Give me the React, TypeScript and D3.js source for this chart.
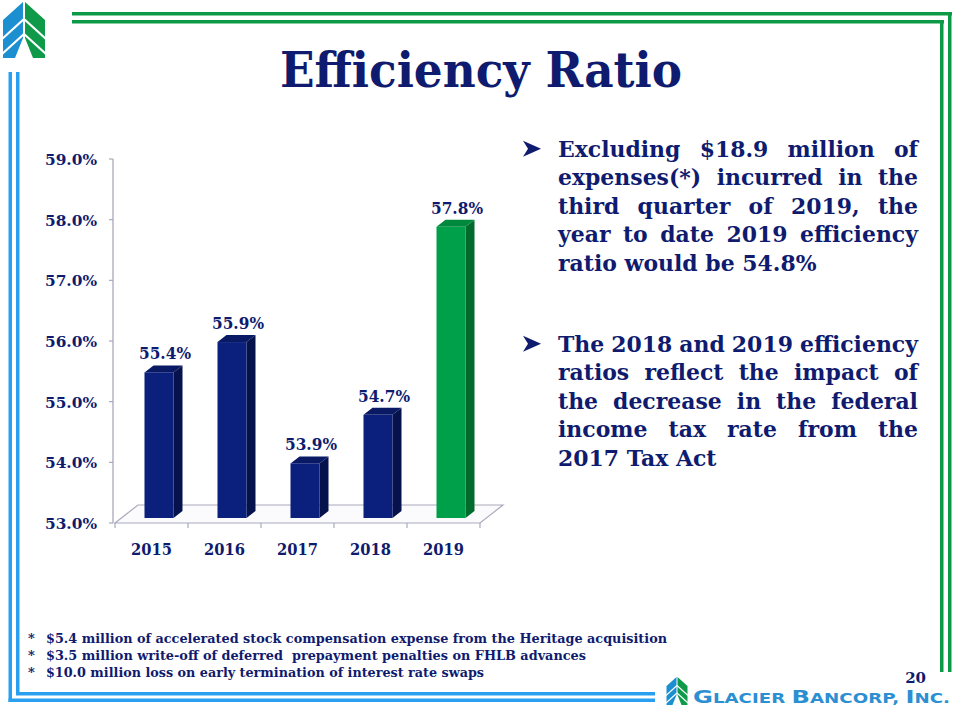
import React, { useMemo } from "react";
import * as d3 from "d3";

const years = ["2015", "2016", "2017", "2018", "2019"];
const ratios = [55.4, 55.9, 53.9, 54.7, 57.8];
const yTicks = [53, 54, 55, 56, 57, 58, 59];
const highlightYear = "2019";

const bullet1 = [
  "Excluding $18.9 million of",
  "expenses(*) incurred in the",
  "third quarter of 2019, the",
  "year to date 2019 efficiency",
  "ratio would be 54.8%",
];
const bullet2 = [
  "The 2018 and 2019 efficiency",
  "ratios reflect the impact of",
  "the decrease in the federal",
  "income tax rate from the",
  "2017 Tax Act",
];
const footnotes = [
  "$5.4 million of accelerated stock compensation expense from the Heritage acquisition",
  "$3.5 million write-off of deferred  prepayment penalties on FHLB advances",
  "$10.0 million loss on early termination of interest rate swaps",
];
const footWidths = [621, 540, 438];

const NAVY = "#0f1b6e";
const SERIF = "'DejaVu Serif', serif";
const BLUE_LINE = "#2a9ff0";
const GREEN_LINE = "#0c9a46";

function Logo({ x, y, s }: { x: number; y: number; s: number }) {
  return (
    <g transform={`translate(${x},${y}) scale(${s})`}>
      <polygon points="3,20 23,2 23,38 15,58 3,58" fill="#1b8fd0" />
      <polygon points="45,20 25,2 25,38 33,58 45,58" fill="#0f9a4a" />
      <line x1={2} y1={39} x2={24} y2={19} stroke="#fff" strokeWidth={2.2} />
      <line x1={2} y1={54} x2={24} y2={34} stroke="#fff" strokeWidth={2.2} />
      <line x1={46} y1={39} x2={24} y2={19} stroke="#fff" strokeWidth={2.2} />
      <line x1={46} y1={54} x2={24} y2={34} stroke="#fff" strokeWidth={2.2} />
    </g>
  );
}

export default function App() {
  const x = d3.scaleBand<string>().domain(years).range([115, 480]).padding(0);
  const y = d3.scaleLinear().domain([53, 59]).range([523, 159]);
  const barW = 29;
  const dx = 9;
  const dy = -7;

  const bulletFont = 23;
  const layout = useMemo(() => {
    const canvas = document.createElement("canvas");
    const ctx = canvas.getContext("2d")!;
    ctx.font = `bold ${bulletFont}px 'DejaVu Serif'`;
    const W = 360;
    const space = ctx.measureText(" ").width;
    const all = [bullet1, bullet2].map((lines) =>
      lines.map((l, i) => {
        const words = l.split(" ");
        const ws = words.map((w) => ctx.measureText(w).width);
        return { words, ws, justify: i < lines.length - 1 };
      })
    );
    let sx = 1;
    all.forEach((lines) =>
      lines.forEach((ln) => {
        if (!ln.justify) return;
        const tot = d3.sum(ln.ws);
        const s = (W - 7 * (ln.words.length - 1)) / tot;
        if (s < sx) sx = s;
      })
    );
    const res = all.map((lines) =>
      lines.map((ln) => {
        const tot = d3.sum(ln.ws) * sx;
        const gap = ln.justify
          ? (W - tot) / (ln.words.length - 1)
          : space * sx;
        let cx = 0;
        return ln.words.map((w, k) => {
          const pos = cx;
          cx += ln.ws[k] * sx + gap;
          return { w, pos };
        });
      })
    );
    return { res, sx };
  }, []);

  const bulletTops = [156.7, 351.7];
  const lineH = 28.5;

  return (
    <svg
      width={960}
      height={720}
      style={{ position: "absolute", left: 0, top: 0, background: "#fff" }}
    >
      <rect x={0} y={0} width={960} height={720} fill="#fff" />
      {/* frame */}
      <rect x={72} y={12} width={880} height={3.5} fill={GREEN_LINE} />
      <rect x={72} y={20} width={872} height={3.5} fill={GREEN_LINE} />
      <rect x={940} y={20} width={3.5} height={652} fill={GREEN_LINE} />
      <rect x={948} y={12} width={3.5} height={660} fill={GREEN_LINE} />
      <rect x={8.5} y={72} width={3.5} height={630} fill={BLUE_LINE} />
      <rect x={16} y={72} width={3.5} height={623} fill={BLUE_LINE} />
      <rect x={16} y={692} width={639} height={3.5} fill={BLUE_LINE} />
      <rect x={8.5} y={698.5} width={646.5} height={3.5} fill={BLUE_LINE} />

      <Logo x={0} y={0} s={1} />

      {/* title */}
      <text
        x={481}
        y={87}
        textAnchor="middle"
        fontFamily={SERIF}
        fontWeight="bold"
        fontSize={48}
        fill={NAVY}
        textLength={402}
        lengthAdjust="spacingAndGlyphs"
      >
        Efficiency Ratio
      </text>

      {/* chart floor */}
      <polygon
        points={`${x.range()[0]},${y(53)} ${x.range()[0] + 23},${y(53) - 18} ${x.range()[1] + 23},${y(53) - 18} ${x.range()[1]},${y(53)}`}
        fill="#fbfbfd"
        stroke="#a9a9bd"
        strokeWidth={1.2}
      />
      {/* y axis */}
      <line x1={113} x2={113} y1={y(59)} y2={y(53)} stroke="#a9a9bd" strokeWidth={1.3} />
      {yTicks.map((t) => (
        <g key={t}>
          <line x1={109} x2={113} y1={y(t)} y2={y(t)} stroke="#a9a9bd" strokeWidth={1.2} />
          <text
            x={97}
            y={y(t) + 6}
            textAnchor="end"
            fontFamily={SERIF}
            fontWeight="bold"
            fontSize={15.5}
            fill={NAVY}
            textLength={52}
            lengthAdjust="spacingAndGlyphs"
          >
            {t.toFixed(1) + "%"}
          </text>
        </g>
      ))}
      {/* x ticks */}
      {[...years.map((yr) => x(yr)!), x.range()[1]].map((px, i) => (
        <line key={i} x1={px} x2={px} y1={y(53)} y2={y(53) + 5} stroke="#a9a9bd" strokeWidth={1.2} />
      ))}
      {years.map((yr) => (
        <text
          key={yr}
          x={x(yr)! + x.bandwidth() / 2}
          y={555}
          textAnchor="middle"
          fontFamily={SERIF}
          fontWeight="bold"
          fontSize={16.5}
          fill={NAVY}
          textLength={41}
          lengthAdjust="spacingAndGlyphs"
        >
          {yr}
        </text>
      ))}

      {/* bars */}
      {years.map((yr, i) => {
        const v = ratios[i];
        const x0 = x(yr)! + x.bandwidth() / 2 - 7;
        const top = y(v) - 5;
        const bottom = y(53) - 5;
        const hi = yr === highlightYear;
        const front = hi ? "#00a04a" : "#0b1f7d";
        const side = hi ? "#006b2d" : "#06124c";
        const topc = hi ? "#00883c" : "#0a1964";
        return (
          <g key={yr}>
            <polygon
              points={`${x0 + barW},${top} ${x0 + barW + dx},${top + dy} ${x0 + barW + dx},${bottom + dy} ${x0 + barW},${bottom}`}
              fill={side}
            />
            <polygon
              points={`${x0},${top} ${x0 + dx},${top + dy} ${x0 + barW + dx},${top + dy} ${x0 + barW},${top}`}
              fill={topc}
            />
            <rect x={x0} y={top} width={barW} height={bottom - top} fill={front} />
            <text
              x={x0 + barW / 2 + 6}
              y={top - 13}
              textAnchor="middle"
              fontFamily={SERIF}
              fontWeight="bold"
              fontSize={16.5}
              fill={NAVY}
              textLength={52}
              lengthAdjust="spacingAndGlyphs"
            >
              {v.toFixed(1) + "%"}
            </text>
          </g>
        );
      })}

      {/* bullets */}
      {layout.res.map((lines, b) => (
        <g key={b}>
          <path
            d={`M523,${bulletTops[b] - 16} L541,${bulletTops[b] - 8} L523,${bulletTops[b]} L528,${bulletTops[b] - 8} Z`}
            fill={NAVY}
          />
          {lines.map((words, li) =>
            words.map((wd, k) => (
              <text
                key={li + "-" + k}
                transform={`translate(${558 + wd.pos},${bulletTops[b] + li * lineH}) scale(${layout.sx},1)`}
                fontFamily={SERIF}
                fontWeight="bold"
                fontSize={bulletFont}
                fill={NAVY}
              >
                {wd.w}
              </text>
            ))
          )}
        </g>
      ))}

      {/* footnotes */}
      {footnotes.map((f, i) => (
        <g key={i}>
          <text x={28} y={643 + i * 17} fontFamily={SERIF} fontWeight="bold" fontSize={13} fill={NAVY}>
            *
          </text>
          <text
            x={46}
            y={643 + i * 17}
            fontFamily={SERIF}
            fontWeight="bold"
            fontSize={13.5}
            fill={NAVY}
            textLength={footWidths[i]}
            lengthAdjust="spacingAndGlyphs"
            style={{ whiteSpace: "pre" }}
          >
            {f}
          </text>
        </g>
      ))}

      {/* page number */}
      <text x={926} y={683} textAnchor="end" fontFamily={SERIF} fontWeight="bold" fontSize={15} fill={NAVY}>
        20
      </text>

      {/* bottom logo */}
      <Logo x={665} y={676} s={0.5} />
      <text
        x={693}
        y={703}
        fontFamily="'DejaVu Sans', sans-serif"
        fontWeight="bold"
        fill="#2b8fd2"
        textLength={257}
        lengthAdjust="spacingAndGlyphs"
      >
        <tspan fontSize={18}>G</tspan>
        <tspan fontSize={13.5}>LACIER </tspan>
        <tspan fontSize={18}>B</tspan>
        <tspan fontSize={13.5}>ANCORP, </tspan>
        <tspan fontSize={18}>I</tspan>
        <tspan fontSize={13.5}>NC.</tspan>
      </text>
    </svg>
  );
}
